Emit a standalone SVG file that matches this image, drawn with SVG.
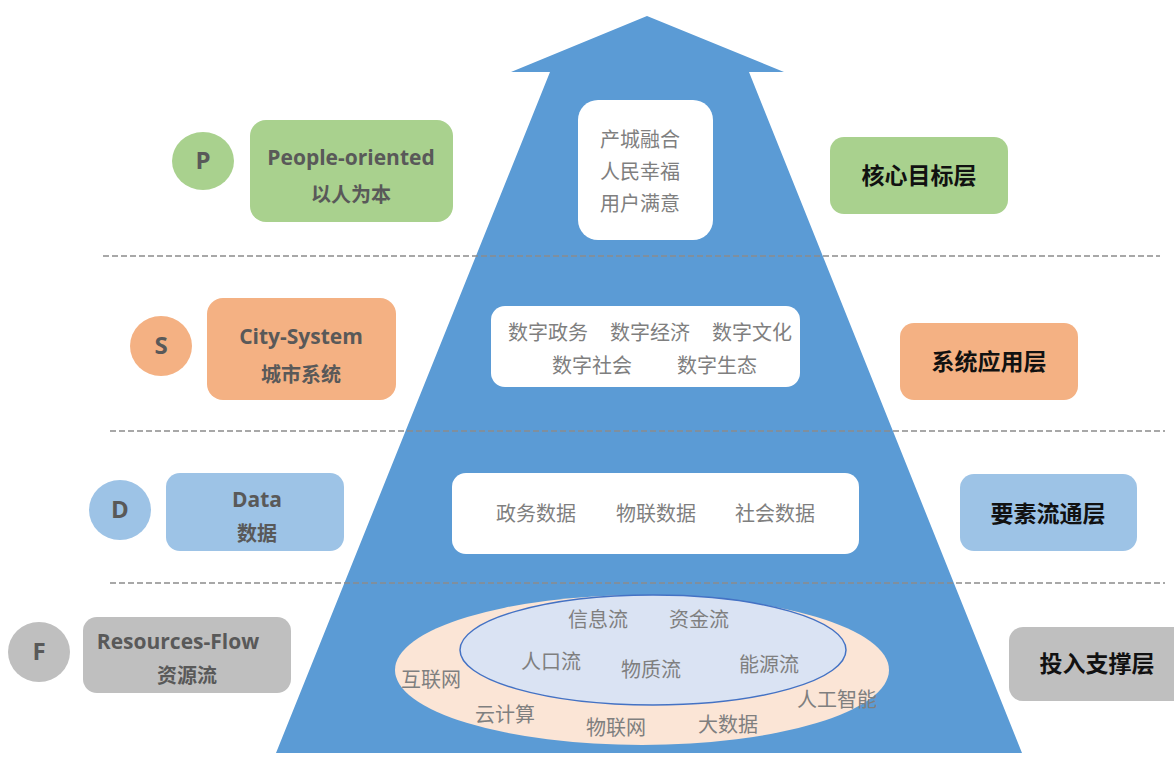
<svg xmlns="http://www.w3.org/2000/svg" width="1174" height="759" viewBox="0 0 1174 759">
<style>
.dash{stroke:#8c8c8c;stroke-width:1.5;stroke-dasharray:6,3;fill:none}
.en{font-family:"Open Sans","Liberation Sans","Noto Sans CJK SC",sans-serif;font-weight:bold;font-size:21px;fill:#595959;text-anchor:middle}
.zh{font-family:"Noto Sans CJK SC",sans-serif;font-weight:bold;font-size:20px;fill:#595959;text-anchor:middle}
.letter{font-family:"Open Sans","Liberation Sans",sans-serif;font-weight:bold;font-size:24px;fill:#595959;text-anchor:middle}
.layer{font-family:"Noto Sans CJK SC",sans-serif;font-weight:bold;font-size:23px;fill:#111;text-anchor:middle}
.in{font-family:"Noto Sans CJK SC",sans-serif;font-size:20px;fill:#7f7f7f;text-anchor:middle}
.g{fill:#a9d18e}.o{fill:#f4b183}.b{fill:#9dc3e6}.gr{fill:#bfbfbf}
.wbox{fill:#ffffff}
</style>
<rect width="1174" height="759" fill="#ffffff"/>
<g id="arrow">
<polygon points="647,16 784,72 749,72 1022,753 276,753 550,72 511,72" fill="#5b9bd5"/>
</g>
<g id="dividers">
<line class="dash" x1="103" y1="256" x2="1160" y2="256"/>
<line class="dash" x1="110" y1="431" x2="1165" y2="431"/>
<line class="dash" x1="110" y1="583" x2="1165" y2="583"/>
</g>
<g id="p-letter"><ellipse class="g" cx="203" cy="161" rx="31" ry="29"/><text class="letter" x="203" y="169">P</text></g>
<g id="p-box"><rect class="g" x="250" y="120" width="203" height="102" rx="16"/><text class="en" x="351" y="165">People-oriented</text><text class="zh" x="351" y="202">以人为本</text></g>
<g id="p-core"><rect class="wbox" x="578" y="100" width="135" height="140" rx="20"/><text class="in" x="640" y="147">产城融合</text><text class="in" x="640" y="179">人民幸福</text><text class="in" x="640" y="211">用户满意</text></g>
<g id="p-layer"><rect class="g" x="830" y="137" width="178" height="77" rx="14"/><text class="layer" x="919" y="184">核心目标层</text></g>

<g id="s-letter"><ellipse class="o" cx="161" cy="346" rx="31" ry="30"/><text class="letter" x="161" y="354">S</text></g>
<g id="s-box"><rect class="o" x="207" y="298" width="189" height="102" rx="16"/><text class="en" x="301" y="344">City-System</text><text class="zh" x="301" y="382">城市系统</text></g>
<g id="s-core"><rect class="wbox" x="491" y="306" width="309" height="81" rx="14"/><text class="in" x="548" y="340">数字政务</text><text class="in" x="650" y="340">数字经济</text><text class="in" x="752" y="340">数字文化</text><text class="in" x="592" y="373">数字社会</text><text class="in" x="717" y="373">数字生态</text></g>
<g id="s-layer"><rect class="o" x="900" y="323" width="178" height="77" rx="14"/><text class="layer" x="989" y="370">系统应用层</text></g>

<g id="d-letter"><ellipse class="b" cx="120" cy="510" rx="31" ry="30"/><text class="letter" x="120" y="518">D</text></g>
<g id="d-box"><rect class="b" x="166" y="473" width="178" height="78" rx="14"/><text class="en" x="257" y="507">Data</text><text class="zh" x="257" y="541">数据</text></g>
<g id="d-core"><rect class="wbox" x="452" y="473" width="407" height="81" rx="14"/><text class="in" x="536" y="521">政务数据</text><text class="in" x="656" y="521">物联数据</text><text class="in" x="775" y="521">社会数据</text></g>
<g id="d-layer"><rect class="b" x="960" y="474" width="177" height="77" rx="14"/><text class="layer" x="1048" y="522">要素流通层</text></g>

<g id="f-letter"><ellipse class="gr" cx="39" cy="652" rx="31" ry="30"/><text class="letter" x="39" y="660">F</text></g>
<g id="f-box"><rect class="gr" x="83" y="617" width="208" height="76" rx="14"/><text class="en" x="178" y="649">Resources-Flow</text><text class="zh" x="187" y="683">资源流</text></g>
<g id="f-core">
<ellipse cx="642" cy="670" rx="247" ry="75" fill="#fbe5d6"/>
<ellipse cx="653" cy="650" rx="193" ry="55" fill="#dae3f3" stroke="#4472c4" stroke-width="1.5"/>
<text class="in" x="598" y="627">信息流</text><text class="in" x="699" y="627">资金流</text>
<text class="in" x="551" y="669">人口流</text><text class="in" x="651" y="677">物质流</text><text class="in" x="769" y="672">能源流</text>
<text class="in" x="431" y="687">互联网</text><text class="in" x="505" y="722">云计算</text><text class="in" x="616" y="735">物联网</text><text class="in" x="728" y="732">大数据</text><text class="in" x="837" y="707">人工智能</text>
</g>
<g id="f-layer"><rect class="gr" x="1009" y="627" width="180" height="74" rx="14"/><text class="layer" x="1097" y="672">投入支撑层</text></g>
</svg>
